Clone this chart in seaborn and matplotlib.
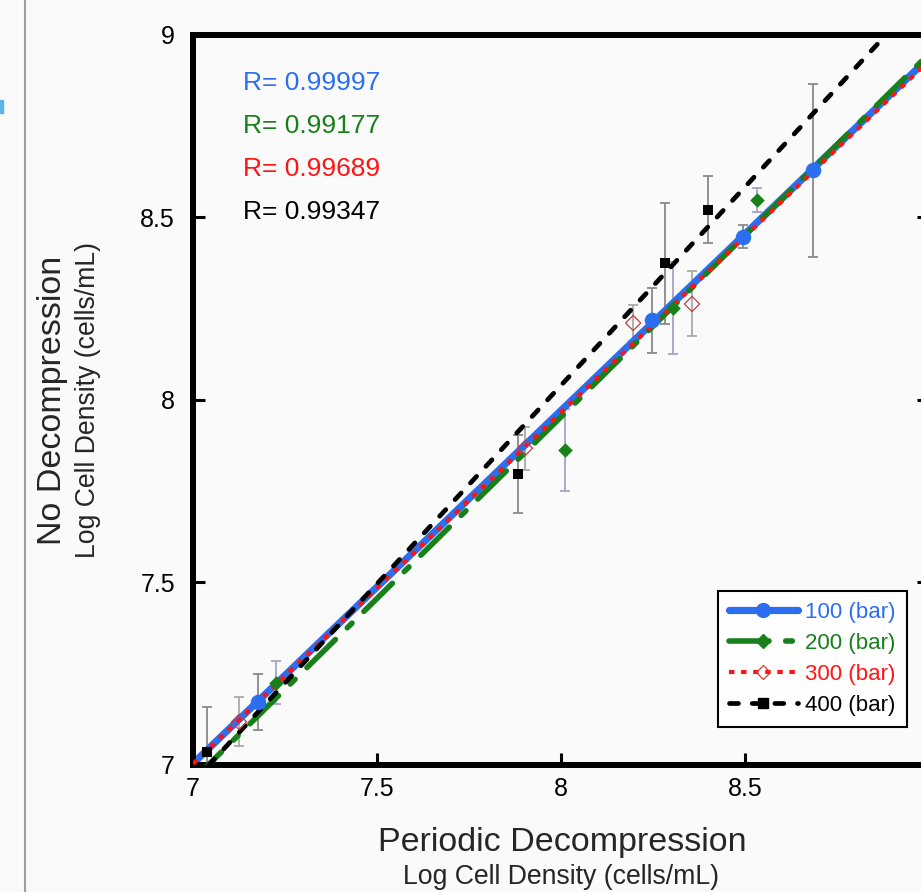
import numpy as np
import pandas as pd
import matplotlib
matplotlib.use('Agg')
import matplotlib.pyplot as plt
from matplotlib.lines import Line2D
from matplotlib.patches import Rectangle
import seaborn as sns

# values (log cell density)
x_100 = [7.177, 8.247, 8.495, 8.685]
y_100 = [7.173, 8.219, 8.447, 8.630]
e_100 = [0.077, 0.089, 0.032, 0.237]

x_200 = [7.226, 8.011, 8.304, 8.533]
y_200 = [7.225, 7.863, 8.252, 8.548]
e_200 = [0.059, 0.112, 0.127, 0.032]

x_300 = [7.125, 7.902, 8.196, 8.356]
y_300 = [7.118, 7.868, 8.211, 8.263]
e_300 = [0.067, 0.059, 0.050, 0.089]

x_400 = [7.038, 7.883, 8.283, 8.399]
y_400 = [7.036, 7.797, 8.375, 8.521]
e_400 = [0.123, 0.107, 0.166, 0.092]

labels = ['100 (bar)', '200 (bar)', '300 (bar)', '400 (bar)']
r_values = ['R= 0.99997', 'R= 0.99177', 'R= 0.99689', 'R= 0.99347']
ticks = [7, 7.5, 8, 8.5, 9]
ytick_labels = ['7', '7.5', '8', '8.5', '9']
xtick_labels = ['7', '7.5', '8', '8.5', '']  # the 9 falls outside the crop

BG = '#fafafa'
BLUE = '#2b6ff0'
GREEN = '#17801a'
RED = '#ff1414'
BLACK = '#000000'

sns.set_style('ticks')
plt.rcParams['font.family'] = ['Liberation Sans', 'DejaVu Sans']

fig = plt.figure(figsize=(9.21, 8.92), dpi=100, facecolor=BG)
ax = fig.add_axes([0.2096, 0.1424, 0.7991, 0.8184])
ax.set_facecolor(BG)
ax.set_xlim(7, 9)
ax.set_ylim(7, 9)

GREEN_LS = (0, (7.2, 3.0, 1.2, 3.0))
RED_LS = (0, (1.3, 1.6))
BLACK_LS = (0, (1.9, 2.9))

series = [
    (x_100, y_100, e_100, BLUE, dict(lw=5.2, ls='-'), '#8a8a8a'),
    (x_200, y_200, e_200, GREEN, dict(lw=4.0, ls=GREEN_LS, dash_capstyle='round'), '#a4a4c4'),
    (x_300, y_300, e_300, RED, dict(lw=3.0, ls=RED_LS), '#aaaaaa'),
    (x_400, y_400, e_400, BLACK, dict(lw=3.4, ls=BLACK_LS, dash_capstyle='round'), '#8a8a8a'),
]

# error bars behind everything
for xs, ys, es, col, lkw, ecol in series:
    ax.errorbar(xs, ys, yerr=es, fmt='none', ecolor=ecol, elinewidth=1.3,
                capsize=3.5, capthick=1.3, zorder=1)

# fitted lines across the full axis
for i, (xs, ys, es, col, lkw, ecol) in enumerate(series):
    df = pd.DataFrame({'x': xs, 'y': ys})
    kw = dict(color=col, zorder=2 + i)
    kw.update(lkw)
    sns.regplot(data=df, x='x', y='y', ax=ax, scatter=False, ci=None,
                truncate=False, line_kws=kw)

# markers
sns.scatterplot(x=x_100, y=y_100, ax=ax, marker='o', s=125, color=BLUE,
                edgecolor=BLUE, linewidth=0, zorder=10)
sns.scatterplot(x=x_200, y=y_200, ax=ax, marker='D', s=55, color=GREEN,
                edgecolor=GREEN, linewidth=0, zorder=10)
sns.scatterplot(x=x_300, y=y_300, ax=ax, marker='D', s=60, color='#c04040',
                facecolor='none', edgecolor='#c04040', linewidth=0.9, zorder=10)
sns.scatterplot(x=x_400, y=y_400, ax=ax, marker='s', s=60, color=BLACK,
                edgecolor=BLACK, linewidth=0, zorder=10)

ax.set_xlim(7, 9)
ax.set_ylim(7, 9)
ax.set_xticks(ticks)
ax.set_xticklabels(xtick_labels)
ax.set_yticks(ticks)
ax.set_yticklabels(ytick_labels)
ax.set_xlabel('')
ax.set_ylabel('')
for s in ax.spines.values():
    s.set_visible(True)
    s.set_linewidth(4.3)
    s.set_color('black')
ax.tick_params(axis='both', direction='in', length=8.5, width=2.2,
               labelsize=18, colors='black', top=False, right=True)
ax.tick_params(axis='x', pad=9)
ax.tick_params(axis='y', pad=13)

# R values
for j, (txt, col) in enumerate(zip(r_values, [BLUE, GREEN, RED, BLACK])):
    fig.text(243 / 921, 1 - (83 + 43 * j) / 892, txt, color=col, fontsize=19,
             ha='left', va='center')

# legend
handles = [
    Line2D([], [], color=BLUE, lw=5.2, marker='o', markersize=10),
    Line2D([], [], color=GREEN, lw=4.0, ls=GREEN_LS, dash_capstyle='round',
           marker='D', markersize=7),
    Line2D([], [], color=RED, lw=3.0, ls=RED_LS, marker='D', markersize=7.5,
           markerfacecolor='none', markeredgecolor='#c04040', markeredgewidth=0.9),
    Line2D([], [], color=BLACK, lw=3.4, ls=BLACK_LS, dash_capstyle='round',
           marker='s', markersize=7.5),
]
leg = ax.legend(handles, labels, loc='lower right',
                bbox_to_anchor=(907 / 921, (892 - 727) / 892),
                bbox_transform=fig.transFigure, fontsize=16, frameon=True,
                fancybox=False, edgecolor='black', facecolor='white',
                handlelength=3.1, handletextpad=0.35, labelspacing=0.45,
                borderpad=0.5, borderaxespad=0, labelcolor='linecolor',
                framealpha=1)
leg.get_frame().set_linewidth(1.5)

# axis titles
fig.text(52 / 921, 1 - 400 / 892, 'No Decompression', rotation=90, fontsize=24.5,
         ha='center', va='center')
fig.text(88 / 921, 1 - 400 / 892, 'Log Cell Density (cells/mL)', rotation=90,
         fontsize=19.2, ha='center', va='center')
fig.text(562 / 921, 1 - 843 / 892, 'Periodic Decompression', fontsize=24.5,
         ha='center', va='center')
fig.text(561 / 921, 1 - 877 / 892, 'Log Cell Density (cells/mL)', fontsize=19.2,
         ha='center', va='center')

# page decorations from the screenshot
fig.add_artist(Line2D([25 / 921, 25 / 921], [0, 1], color='#a0a0a0', lw=1.5,
                      transform=fig.transFigure))
fig.add_artist(Rectangle((0, 1 - 113 / 892), 3 / 921, 13 / 892, color='#5ab4e6',
                         transform=fig.transFigure))

fig.savefig('out.png', dpi=100, facecolor=BG)
